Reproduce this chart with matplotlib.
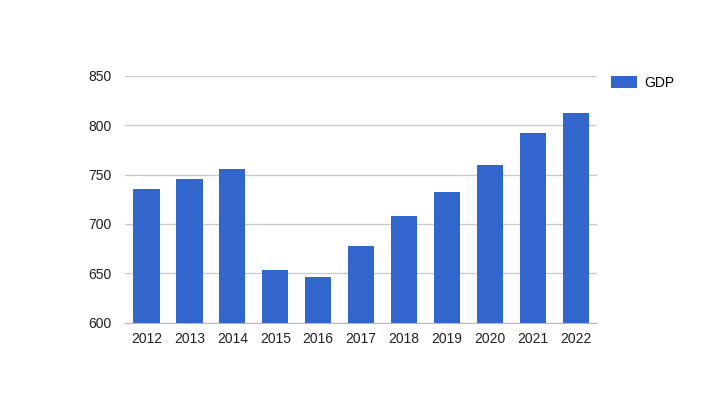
import matplotlib.pyplot as plt

years = ["2012", "2013", "2014", "2015", "2016", "2017", "2018", "2019", "2020", "2021", "2022"]
gdp = [735.5, 746, 756, 653, 646, 678, 708, 732, 760, 792, 812.5]
y_ticks = [600, 650, 700, 750, 800, 850]

plt.rcParams["font.family"] = ["Liberation Sans", "DejaVu Sans"]

fig = plt.figure(figsize=(7.23, 3.97), dpi=100)
fig.patch.set_facecolor("white")
ax = fig.add_axes([0.173, 0.187, 0.653, 0.622])

x = list(range(len(years)))
ax.bar(x, gdp, width=0.61, color="#3366cc", label="GDP", zorder=3)

ax.set_ylim(600, 850)
ax.set_xlim(-0.5, len(years) - 0.5)
ax.set_yticks(y_ticks)
ax.set_yticklabels([str(v) for v in y_ticks])
ax.set_xticks(x)
ax.set_xticklabels(years)
ax.tick_params(axis="both", length=0, labelsize=10, colors="#222222")
ax.tick_params(axis="y", pad=10)
ax.tick_params(axis="x", pad=7)

ax.grid(axis="y", color="#cccccc", linewidth=1, zorder=0)
for s in ["top", "right", "left"]:
    ax.spines[s].set_visible(False)
ax.spines["bottom"].set_color("#bbbbbb")

fig.legend(loc="upper left", bbox_to_anchor=(0.837, 0.823), frameon=False,
           fontsize=10, handlelength=1.9, handleheight=1.0, handletextpad=0.5,
           borderaxespad=0)

fig.savefig("out.png", dpi=100)
plt.close(fig)
